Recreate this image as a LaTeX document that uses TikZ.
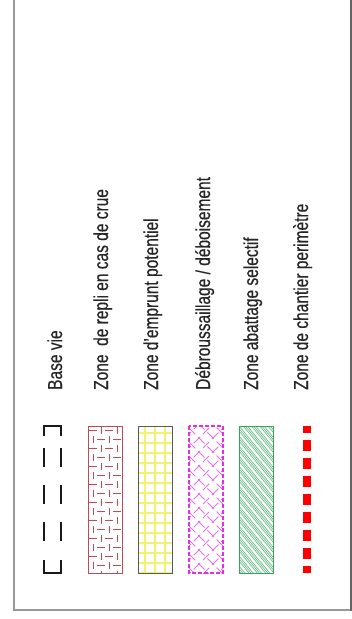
\documentclass[tikz,border=0pt]{standalone}
\usepackage{fontspec}
\setmainfont{Liberation Sans}
\begin{document}
\begin{tikzpicture}[x=1pt,y=-1pt,
  lbl/.style={rotate=90,anchor=base west,inner sep=0pt,text=black!85,font=\fontsize{15.5}{15.5}\selectfont\addfontfeature{FakeBold=0.5}},
  frameline/.style={draw=black!40,line width=2.5pt}]
\useasboundingbox (0,0) rectangle (352,619);
\fill[white] (0,0) rectangle (352,619);
% frame
\draw[frameline] (14,0) -- (14,611);
\draw[frameline] (13,610) -- (351,610);
\draw[draw=black!60,line width=2pt] (351,0) -- (351,611);
% labels
\node[lbl] (t1) at (62,390) {\scalebox{1}[1.3]{Base vie}};
\node[lbl] (t2) at (108,390) {\scalebox{1}[1.3]{Zone\ \ de repli en cas de crue}};
\node[lbl] (t3) at (158,390) {\scalebox{1}[1.3]{Zone d'emprunt potentiel}};
\node[lbl] (t4) at (210,390) {\scalebox{1}[1.3]{Débroussaillage / déboisement}};
\node[lbl] (t5) at (258,390) {\scalebox{1}[1.3]{Zone abattage selectif}};
\node[lbl] (t6) at (308,390) {\scalebox{1}[1.3]{Zone de chantier perimètre}};
% base vie symbol
\begin{scope}[line width=2pt,black!90]
\draw (44,436) -- (44,426) -- (61,426) -- (61,436);
\draw (44,560) -- (44,573) -- (61,573) -- (61,560);
\foreach \y in {448,485,522}{
  \draw (44,\y) -- (44,\y+19);
  \draw (61,\y) -- (61,\y+19);
}
\end{scope}
% red brick pattern
\definecolor{brick}{HTML}{C04A55}
\begin{scope}
\clip (88,426) rectangle (122,573);
\foreach \j in {0,...,16}{
  \pgfmathsetmacro{\yy}{426+9*\j}
  \ifodd\j
    \draw[brick,line width=0.7pt] (97,\yy+4.5) -- (105,\yy+4.5) (113,\yy+4.5) -- (121,\yy+4.5)
      (93,\yy+1) -- (93,\yy+8) (109,\yy+1) -- (109,\yy+8);
  \else
    \draw[brick,line width=0.7pt] (89,\yy+4.5) -- (97,\yy+4.5) (105,\yy+4.5) -- (113,\yy+4.5)
      (101,\yy+1) -- (101,\yy+8) (117,\yy+1) -- (117,\yy+8);
  \fi
}
\end{scope}
\draw[brick,line width=0.9pt] (88,426) rectangle (122,573);
% yellow grid
\definecolor{ylw}{HTML}{F2F270}
\begin{scope}
\clip (138,426) rectangle (172,573);
\foreach \x in {145,155,165}{\draw[ylw,line width=1.1pt] (\x,426) -- (\x,573);}
\foreach \y in {433,443,...,573}{\draw[ylw,line width=1.1pt] (138,\y) -- (172,\y);}
\end{scope}
\draw[black!65,line width=1pt] (138,426) rectangle (172,573);
% magenta crosshatch
\definecolor{mag}{HTML}{DD33DD}
\begin{scope}
\clip (189,426) rectangle (223,573);
\foreach \k in {-40,-26,...,160}{
  \draw[mag!70!white,line width=0.8pt,dash pattern=on 9pt off 4pt] (189,426+\k) -- (223,460+\k);
  \draw[mag!70!white,line width=0.8pt,dash pattern=on 9pt off 4pt,dash phase=6.5pt] (223,426+\k) -- (189,460+\k);
}
\end{scope}
\draw[mag,line width=1.6pt,dash pattern=on 4pt off 2pt] (189,426) rectangle (223,573);
% green diagonal
\definecolor{grn}{HTML}{35A55A}
\begin{scope}
\clip (239,426) rectangle (273,573);
\foreach \k in {-50,-40,...,160}{
  \foreach \o in {0,2.5,5}{
    \draw[grn!80!white,line width=0.6pt] (239,426+\k+\o) -- (273,467+\k+\o);
  }
}
\end{scope}
\draw[grn,line width=0.9pt] (239,426) rectangle (273,573);
% red dashed perimeter line
\draw[red,line width=8pt] (307,426) -- (307,433);
\foreach \y in {440,458,...,548}{\draw[red,line width=8pt] (307,\y) -- (307,\y+11);}
\draw[red,line width=8pt] (307,566) -- (307,573);
\end{tikzpicture}
\end{document}
